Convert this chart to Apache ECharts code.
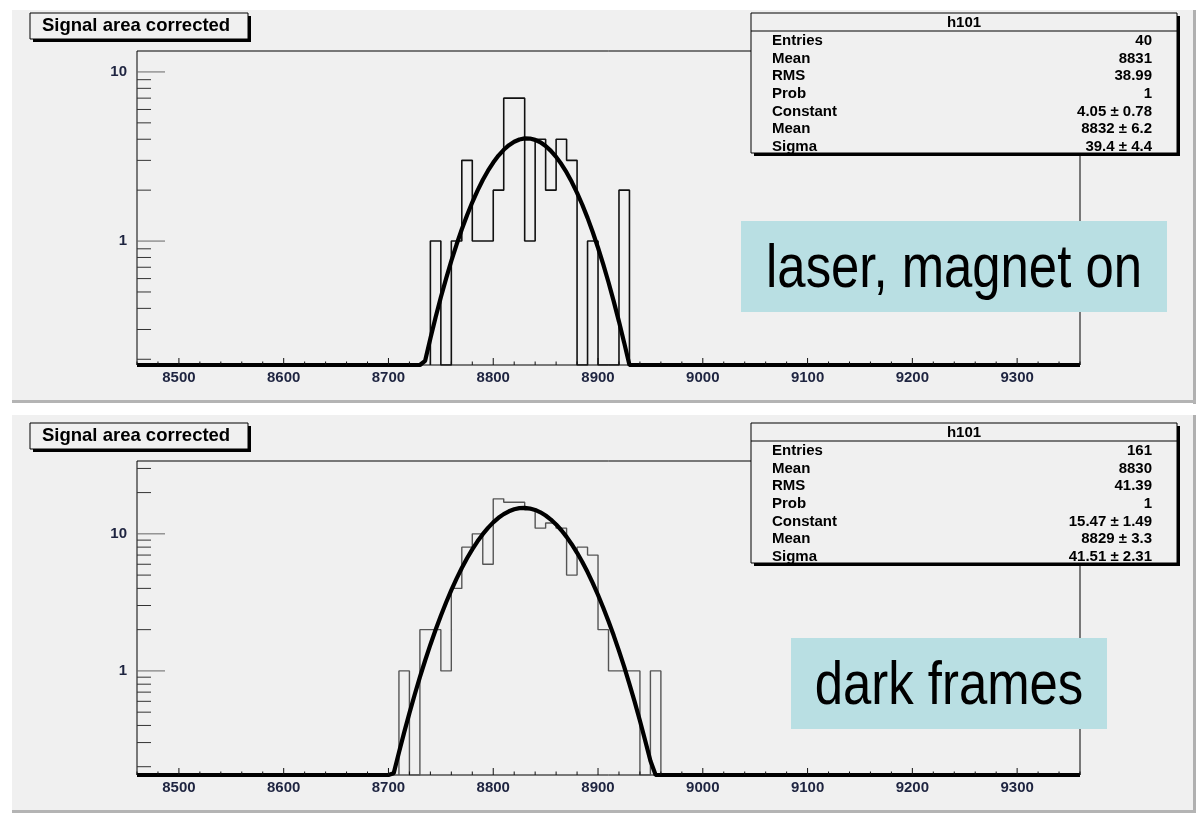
<!DOCTYPE html>
<html><head><meta charset="utf-8">
<script src="https://cdn.jsdelivr.net/npm/echarts@6/dist/echarts.min.js"></script>
<style>html,body{margin:0;padding:0;background:#fff}#c{width:1200px;height:815px}</style>
</head><body><div id="c"></div>
<script>
// ---------- data ----------
const xTickLabels = [8500, 8600, 8700, 8800, 8900, 9000, 9100, 9200, 9300];
const yTickLabels = [1, 10];
const xRange = [8460, 9360];
const binWidth = 10;

const topBinLow = [8740, 8750, 8760, 8770, 8780, 8790, 8800, 8810, 8820, 8830, 8840, 8850, 8860, 8870, 8880, 8890, 8900, 8910, 8920];
const topCounts = [1, 0, 1, 3, 1, 1, 2, 7, 7, 1, 4, 2, 4, 3, 0, 1, 0, 0, 2];

const botBinLow = [8710, 8720, 8730, 8740, 8750, 8760, 8770, 8780, 8790, 8800, 8810, 8820, 8830, 8840, 8850, 8860, 8870, 8880, 8890, 8900, 8910, 8920, 8930, 8940, 8950];
const botCounts = [1, 0, 2, 2, 1, 4, 8, 10, 6, 18, 17, 17, 15, 11, 12, 11, 5, 8, 7, 2, 1, 1, 1, 0, 1];

const topFitX = [8460, 8730, 8735, 8740, 8745, 8750, 8755, 8760, 8765, 8770, 8775, 8780, 8785, 8790, 8795, 8800, 8805, 8810, 8815, 8820, 8825, 8830, 8835, 8840, 8845, 8850, 8855, 8860, 8865, 8870, 8875, 8880, 8885, 8890, 8895, 8900, 8905, 8910, 8915, 8920, 8925, 8930, 8935, 9360];
const topFitY = [0, 0.142, 0.196, 0.265, 0.354, 0.465, 0.600, 0.763, 0.954, 1.175, 1.422, 1.695, 1.988, 2.295, 2.606, 2.912, 3.202, 3.465, 3.690, 3.867, 3.986, 4.045, 4.038, 3.967, 3.835, 3.649, 3.415, 3.146, 2.852, 2.544, 2.233, 1.928, 1.639, 1.371, 1.128, 0.913, 0.728, 0.571, 0.440, 0.334, 0.250, 0.184, 0.133, 0];

const botFitX = [8460, 8700, 8705, 8710, 8715, 8720, 8725, 8730, 8735, 8740, 8745, 8750, 8755, 8760, 8765, 8770, 8775, 8780, 8785, 8790, 8795, 8800, 8805, 8810, 8815, 8820, 8825, 8830, 8835, 8840, 8845, 8850, 8855, 8860, 8865, 8870, 8875, 8880, 8885, 8890, 8895, 8900, 8905, 8910, 8915, 8920, 8925, 8930, 8935, 8940, 8945, 8950, 8955, 8960, 9360];
const botFitY = [0, 0.124, 0.179, 0.254, 0.356, 0.492, 0.670, 0.900, 1.191, 1.553, 1.996, 2.529, 3.158, 3.886, 4.713, 5.634, 6.637, 7.707, 8.821, 9.950, 11.06, 12.12, 13.09, 13.93, 14.61, 15.11, 15.40, 15.47, 15.31, 14.94, 14.36, 13.61, 12.71, 11.71, 10.62, 9.50, 8.37, 7.27, 6.23, 5.26, 4.37, 3.58, 2.89, 2.30, 1.81, 1.40, 1.07, 0.80, 0.594, 0.433, 0.311, 0.221, 0.155, 0.106, 0];

const topYRange = [0.185, 13.3];
const botYRange = [0.174, 34];

const histTitle = 'Signal area corrected';
const statTitle = 'h101';
const topStats = [['Entries', '40'], ['Mean', '8831'], ['RMS', '38.99'], ['Prob', '1'], ['Constant', '4.05 ± 0.78'], ['Mean', '8832 ± 6.2'], ['Sigma', '39.4 ± 4.4']];
const botStats = [['Entries', '161'], ['Mean', '8830'], ['RMS', '41.39'], ['Prob', '1'], ['Constant', '15.47 ± 1.49'], ['Mean', '8829 ± 3.3'], ['Sigma', '41.51 ± 2.31']];
const topNote = 'laser, magnet on';
const botNote = 'dark frames';

// ---------- helpers ----------
const FONT = '"Liberation Sans", Arial, Helvetica, sans-serif';

function histLine(lows, counts, yMin) {
  const pts = [[lows[0], yMin]];
  for (let i = 0; i < lows.length; i++) {
    const c = Math.max(counts[i], yMin);
    pts.push([lows[i], c]);
    pts.push([lows[i] + binWidth, c]);
  }
  pts.push([lows[lows.length - 1] + binWidth, yMin]);
  return pts;
}
function fitLine(xs, ys, yMin) {
  return xs.map((x, i) => [x, Math.max(ys[i], yMin)]);
}
function xTicks() {
  const t = [];
  for (let v = Math.ceil(xRange[0] / 20) * 20; v <= xRange[1]; v += 20) t.push({ v: v, major: v % 100 === 0 });
  return t;
}
function yTicks(range) {
  const t = [];
  for (let e = -2; e <= 3; e++) {
    for (let m = 1; m <= 9; m++) {
      const v = m * Math.pow(10, e);
      if (v >= range[0] * 0.999 && v <= range[1]) t.push({ v: v, major: m === 1 });
    }
  }
  return t;
}

const xt = xTicks();
const ytTop = yTicks(topYRange);
const ytBot = yTicks(botYRange);

function tickSeries(gi, yRange, yt) {
  return [{
    type: 'custom', xAxisIndex: gi, yAxisIndex: gi, silent: true, z: 5,
    data: xt.map(t => [t.v]),
    renderItem: function (params, api) {
      const t = xt[params.dataIndex];
      const p = api.coord([t.v, yRange[0]]);
      const len = t.major ? 7 : 3.5;
      return { type: 'line', shape: { x1: p[0], y1: p[1], x2: p[0], y2: p[1] - len }, style: { stroke: '#111', lineWidth: 1 } };
    }
  }, {
    type: 'custom', xAxisIndex: gi, yAxisIndex: gi, silent: true, z: 5,
    data: yt.map(t => [xRange[0]]),
    renderItem: function (params, api) {
      const t = yt[params.dataIndex];
      const p = api.coord([xRange[0], t.v]);
      const len = t.major ? 28 : 14;
      return { type: 'line', shape: { x1: p[0], y1: p[1], x2: p[0] + len, y2: p[1] }, style: { stroke: t.major ? '#666' : '#333', lineWidth: 1 } };
    }
  }];
}

function panelGraphics(off, stats, note, noteBox) {
  const g = [];
  g.push({ type: 'rect', z: -10, shape: { x: 12, y: 10 + off - (off ? 5 : 0), width: 1181, height: off ? 395 : 390 }, style: { fill: '#f0f0f0' } });
  g.push({ type: 'rect', z: -9, shape: { x: 1193, y: 10 + off - (off ? 5 : 0), width: 3, height: off ? 398 : 394 }, style: { fill: '#b0b0b0' } });
  g.push({ type: 'rect', z: -9, shape: { x: 12, y: off ? 810 : 400, width: 1184, height: 3 }, style: { fill: '#b4b4b4' } });
  // title box
  g.push({ type: 'rect', z: 50, shape: { x: 33, y: 16 + off, width: 218, height: 26 }, style: { fill: '#000' } });
  g.push({ type: 'rect', z: 51, shape: { x: 30, y: 13 + off, width: 218, height: 26 }, style: { fill: '#f0f0f0', stroke: '#000', lineWidth: 1 } });
  g.push({ type: 'text', z: 52, x: 42, y: 26 + off, style: { text: histTitle, font: 'bold 18.5px ' + FONT, fill: '#000', textVerticalAlign: 'middle', verticalAlign: 'middle' } });
  // stats box
  g.push({ type: 'rect', z: 50, shape: { x: 754, y: 16 + off, width: 426, height: 140 }, style: { fill: '#000' } });
  g.push({ type: 'rect', z: 51, shape: { x: 751, y: 13 + off, width: 426, height: 140 }, style: { fill: '#f0f0f0', stroke: '#000', lineWidth: 1 } });
  g.push({ type: 'line', z: 52, shape: { x1: 751, y1: 31 + off, x2: 1177, y2: 31 + off }, style: { stroke: '#000', lineWidth: 1 } });
  g.push({ type: 'text', z: 52, x: 964, y: 23 + off, style: { text: statTitle, font: 'bold 15px ' + FONT, fill: '#000', align: 'center', textAlign: 'center', verticalAlign: 'middle', textVerticalAlign: 'middle' } });
  stats.forEach((s, i) => {
    const y = 41 + off + i * 17.6;
    g.push({ type: 'text', z: 52, x: 772, y: y, style: { text: s[0], font: 'bold 15px ' + FONT, fill: '#000', verticalAlign: 'middle', textVerticalAlign: 'middle' } });
    g.push({ type: 'text', z: 52, x: 1152, y: y, style: { text: s[1], font: 'bold 15px ' + FONT, fill: '#000', align: 'right', textAlign: 'right', verticalAlign: 'middle', textVerticalAlign: 'middle' } });
  });
  // note box (condensed look via horizontal scale)
  g.push({ type: 'rect', z: 60, shape: { x: noteBox[0], y: noteBox[1], width: noteBox[2], height: noteBox[3] }, style: { fill: '#b9dfe3' } });
  g.push({ type: 'text', z: 61, x: noteBox[0] + noteBox[2] / 2, y: noteBox[1] + noteBox[3] / 2 + 3, scaleX: 0.82, scaleY: 1,
    style: { text: note, font: '62px ' + FONT, fill: '#000', align: 'center', textAlign: 'center', verticalAlign: 'middle', textVerticalAlign: 'middle' } });
  return g;
}

const labelStyle = { color: '#1e2440', fontWeight: 'bold', fontSize: 15, fontFamily: FONT };

const chart = echarts.init(document.getElementById('c'));
chart.setOption({
  animation: false,
  backgroundColor: '#ffffff',
  grid: [
    { left: 137, top: 51, width: 943, height: 314, show: true, borderColor: '#000', borderWidth: 1, backgroundColor: 'transparent' },
    { left: 137, top: 461, width: 943, height: 314, show: true, borderColor: '#000', borderWidth: 1, backgroundColor: 'transparent' }
  ],
  xAxis: [0, 1].map(i => ({
    type: 'value', gridIndex: i, min: xRange[0], max: xRange[1],
    axisLine: { show: false }, axisTick: { show: false }, splitLine: { show: false },
    axisLabel: Object.assign({ customValues: xTickLabels, margin: 5, formatter: v => String(v) }, labelStyle)
  })),
  yAxis: [topYRange, botYRange].map((r, i) => ({
    type: 'log', logBase: 10, gridIndex: i, min: r[0], max: r[1],
    axisLine: { show: false }, axisTick: { show: false }, splitLine: { show: false }, minorSplitLine: { show: false },
    axisLabel: Object.assign({ customValues: yTickLabels, margin: 10, formatter: v => String(Math.round(v)) }, labelStyle)
  })),
  series: [
    ...tickSeries(0, topYRange, ytTop),
    ...tickSeries(1, botYRange, ytBot),
    { type: 'line', xAxisIndex: 0, yAxisIndex: 0, data: histLine(topBinLow, topCounts, topYRange[0]), symbol: 'none', lineStyle: { color: '#111', width: 1.6 }, z: 3, silent: true },
    { type: 'line', xAxisIndex: 0, yAxisIndex: 0, data: fitLine(topFitX, topFitY, topYRange[0]), symbol: 'none', lineStyle: { color: '#000', width: 4.2 }, z: 4, silent: true },
    { type: 'line', xAxisIndex: 1, yAxisIndex: 1, data: histLine(botBinLow, botCounts, botYRange[0]), symbol: 'none', lineStyle: { color: '#555', width: 1.4 }, z: 3, silent: true },
    { type: 'line', xAxisIndex: 1, yAxisIndex: 1, data: fitLine(botFitX, botFitY, botYRange[0]), symbol: 'none', lineStyle: { color: '#000', width: 4.2 }, z: 4, silent: true }
  ],
  graphic: { elements: [
    ...panelGraphics(0, topStats, topNote, [741, 221, 426, 91]),
    ...panelGraphics(410, botStats, botNote, [791, 638, 316, 91])
  ] }
});
</script>
</body></html>
